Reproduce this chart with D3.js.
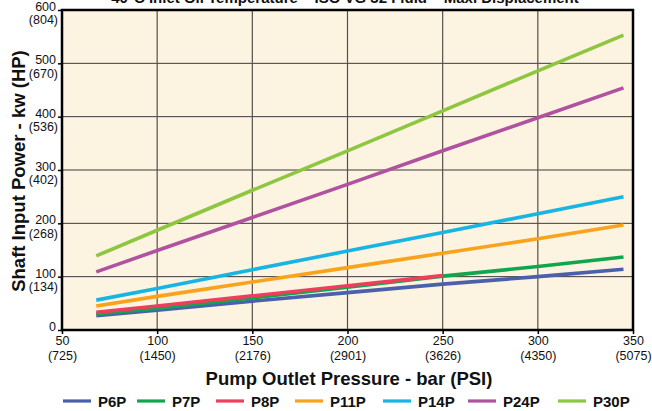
<!DOCTYPE html>
<html>
<head>
<meta charset="utf-8">
<script src="https://cdn.jsdelivr.net/npm/d3@7"></script>
<style>
  html, body { margin: 0; padding: 0; background: #fff; }
  svg { display: block; }
</style>
</head>
<body>
<svg id="chart" width="652" height="411"></svg>
<script>
// Pressure sample points (bar) where each curve is read
const pressures = [68, 100, 150, 200, 250, 300, 345];
const pressuresP8P = [68, 100, 150, 200, 250];

// Shaft input power (kW) per pump model
const p6p  = [27, 37, 54, 70, 86, 100, 114];
const p7p  = [30, 41, 60, 80, 101, 119, 137];
const p8p  = [33, 45, 64, 83, 102];
const p11p = [45, 63, 90, 117, 144, 171, 197];
const p14p = [56, 78, 113, 148, 183, 218, 250];
const p24p = [109, 149, 211, 273, 336, 398, 454];
const p30p = [139, 187, 262, 336, 411, 486, 553];

const seriesNames  = ["P6P", "P7P", "P8P", "P11P", "P14P", "P24P", "P30P"];
const seriesColors = ["#4a60ad", "#10a64e", "#ee3d5d", "#f9a21b", "#17b4e4", "#b0529f", "#8dc63f"];

// Axis ticks: bar / PSI and kW / HP
const xTicks    = [50, 100, 150, 200, 250, 300, 350];
const xTicksPsi = ["(725)", "(1450)", "(2176)", "(2901)", "(3626)", "(4350)", "(5075)"];
const yTicks    = [0, 100, 200, 300, 400, 500, 600];
const yTicksHp  = ["", "(134)", "(268)", "(402)", "(536)", "(670)", "(804)"];

const titleText  = "40°C Inlet Oil Temperature – ISO VG 32 Fluid – Maxi Displacement";
const xTitleText = "Pump Outlet Pressure - bar (PSI)";
const yTitleText = "Shaft Input Power - kw (HP)";

const series = [
  { name: seriesNames[0], color: seriesColors[0], x: pressures,    y: p6p },
  { name: seriesNames[1], color: seriesColors[1], x: pressures,    y: p7p },
  { name: seriesNames[2], color: seriesColors[2], x: pressuresP8P, y: p8p },
  { name: seriesNames[3], color: seriesColors[3], x: pressures,    y: p11p },
  { name: seriesNames[4], color: seriesColors[4], x: pressures,    y: p14p },
  { name: seriesNames[5], color: seriesColors[5], x: pressures,    y: p24p },
  { name: seriesNames[6], color: seriesColors[6], x: pressures,    y: p30p }
];

const svg = d3.select("#chart");
const plot = { left: 62, right: 633, top: 10, bottom: 330 };

const x = d3.scaleLinear().domain([50, 350]).range([plot.left, plot.right]);
const y = d3.scaleLinear().domain([0, 600]).range([plot.bottom, plot.top]);

const tickFont = "'Liberation Sans Narrow', 'Liberation Sans', Arial, sans-serif";
const boldFont = "'Liberation Sans', Arial, Helvetica, sans-serif";

// Plot background
svg.append("rect")
  .attr("x", plot.left).attr("y", plot.top)
  .attr("width", plot.right - plot.left).attr("height", plot.bottom - plot.top)
  .attr("fill", "#fdf3e1");

// Grid lines
svg.append("g").selectAll("line.h")
  .data(yTicks.slice(1, -1)).join("line")
  .attr("x1", plot.left).attr("x2", plot.right)
  .attr("y1", d => y(d)).attr("y2", d => y(d))
  .attr("stroke", "#3a3a3a").attr("stroke-width", 1);

svg.append("g").selectAll("line.v")
  .data(xTicks.slice(1, -1)).join("line")
  .attr("y1", plot.top).attr("y2", plot.bottom)
  .attr("x1", d => x(d)).attr("x2", d => x(d))
  .attr("stroke", "#555048").attr("stroke-width", 1.2);

// Curves
const line = d3.line().x(d => x(d[0])).y(d => y(d[1]));
svg.append("g").selectAll("path")
  .data(series).join("path")
  .attr("d", s => line(s.x.map((v, i) => [v, s.y[i]])))
  .attr("fill", "none")
  .attr("stroke", s => s.color)
  .attr("stroke-width", 3.6)
  .attr("stroke-linecap", "butt");

// Frame
svg.append("rect")
  .attr("x", plot.left).attr("y", plot.top)
  .attr("width", plot.right - plot.left).attr("height", plot.bottom - plot.top)
  .attr("fill", "none").attr("stroke", "#000").attr("stroke-width", 2.5);

// Y axis ticks with two-line labels
const yAxis = svg.append("g")
  .attr("transform", `translate(${plot.left},0)`)
  .call(d3.axisLeft(y).tickValues(yTicks).tickSize(4).tickPadding(3).tickFormat(d3.format("d")));
yAxis.select(".domain").remove();
yAxis.selectAll(".tick line").attr("stroke", "#000").attr("stroke-width", 1.5);
yAxis.selectAll(".tick text").each(function(d, i) {
  const t = d3.select(this);
  t.text(null)
    .attr("font-family", tickFont).attr("font-size", 12.5).attr("fill", "#111")
    .attr("dy", null).attr("y", 0).attr("x", -6);
  t.append("tspan").attr("x", -6).attr("dy", "0.05em").text(d);
  const hp = yTicksHp[i];
  if (hp) t.append("tspan").attr("x", -4).attr("dy", "1.05em").text(hp);
});

// X axis ticks with two-line labels
const xAxis = svg.append("g")
  .attr("transform", `translate(0,${plot.bottom})`)
  .call(d3.axisBottom(x).tickValues(xTicks).tickSize(4).tickPadding(2).tickFormat(d3.format("d")));
xAxis.select(".domain").remove();
xAxis.selectAll(".tick line").attr("stroke", "#000").attr("stroke-width", 1.5);
xAxis.selectAll(".tick text").each(function(d, i) {
  const t = d3.select(this);
  t.text(null)
    .attr("font-family", tickFont).attr("font-size", 12.5).attr("fill", "#111")
    .attr("dy", null).attr("y", 15);
  t.append("tspan").attr("x", 0).text(d);
  t.append("tspan").attr("x", 0).attr("dy", "1.2em").text(xTicksPsi[i]);
});

// Titles
svg.append("text")
  .attr("x", 345).attr("y", 3)
  .attr("text-anchor", "middle")
  .attr("font-family", boldFont).attr("font-weight", "bold").attr("font-size", 15)
  .attr("fill", "#111")
  .text(titleText);

svg.append("text")
  .attr("x", 349).attr("y", 385)
  .attr("text-anchor", "middle")
  .attr("font-family", boldFont).attr("font-weight", "bold").attr("font-size", 18.5)
  .attr("fill", "#111")
  .text(xTitleText);

svg.append("text")
  .attr("transform", `translate(25,171) rotate(-90)`)
  .attr("text-anchor", "middle")
  .attr("font-family", boldFont).attr("font-weight", "bold").attr("font-size", 18.5)
  .attr("fill", "#111")
  .text(yTitleText);

// Legend
const legendX = [63, 137, 216, 295, 383, 468, 558];
const legend = svg.append("g").selectAll("g")
  .data(series).join("g")
  .attr("transform", (d, i) => `translate(${legendX[i]},401)`);
legend.append("line")
  .attr("x1", 0).attr("x2", 28).attr("y1", 0).attr("y2", 0)
  .attr("stroke", d => d.color).attr("stroke-width", 3.2);
legend.append("text")
  .attr("x", 35).attr("y", 5.5)
  .attr("font-family", boldFont).attr("font-weight", "bold").attr("font-size", 15)
  .attr("fill", "#111")
  .text(d => d.name);
</script>
</body>
</html>
